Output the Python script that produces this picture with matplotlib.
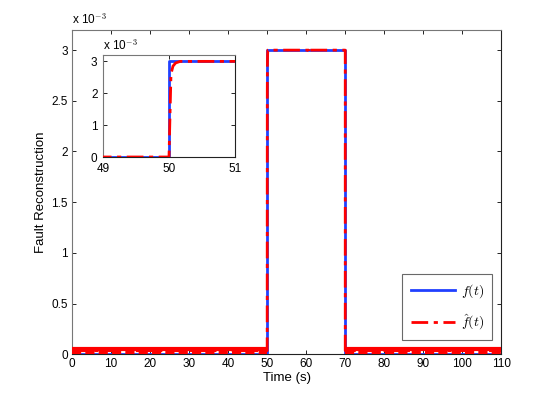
import matplotlib
matplotlib.use("Agg")
import matplotlib.pyplot as plt
import numpy as np
from matplotlib.ticker import FuncFormatter, MultipleLocator

plt.rcParams['font.family'] = ['Liberation Sans', 'DejaVu Sans']
plt.rcParams['mathtext.fontset'] = 'cm'

# Actual fault f(t)
t_f = [0, 50, 50, 70, 70, 110]
f_vals = [0, 0, 3.0e-3, 3.0e-3, 0, 0]

# Reconstructed fault \hat f(t)
t_est = [0, 50.0, 50.03, 50.06, 50.1, 50.17, 60.6, 60.8, 61.0, 70.0, 70.0, 110]
f_est = [3.5e-5, 3.5e-5, 2.6e-3, 2.85e-3, 2.95e-3, 3.0e-3, 3.0e-3, 2.97e-3, 3.0e-3, 3.0e-3, 3.5e-5, 3.5e-5]

# chattering band (upper and lower edge levels) outside the fault window
band_segments = [(0, 50), (70, 110)]
band_upper = 5.0e-5
band_lower = 1.5e-5

x_ticks_main = [0, 10, 20, 30, 40, 50, 60, 70, 80, 90, 100, 110]
y_ticks_main = [0, 0.5e-3, 1.0e-3, 1.5e-3, 2.0e-3, 2.5e-3, 3.0e-3]
x_ticks_inset = [49, 50, 51]
y_ticks_inset = [0, 1e-3, 2e-3, 3e-3]

blue = '#2040ff'
red = '#ff0000'

fig = plt.figure(figsize=(5.54, 3.98), dpi=100)
ax = fig.add_axes([0.13, 0.11, 0.775, 0.815])

fmt = FuncFormatter(lambda v, p: '%g' % round(v * 1e3, 6))

def style(a, fs=8.5):
    a.tick_params(direction='in', top=True, right=True, labelsize=fs, length=3, width=0.6, pad=3)
    for s in ['left', 'top']:
        a.spines[s].set_color('#777777')
    for s in ['right', 'bottom']:
        a.spines[s].set_color('#222222')
    for s in a.spines.values():
        s.set_linewidth(0.8)

ax.plot(t_f, f_vals, color=blue, lw=2.0, label=r'$f(t)$', zorder=3)
ax.plot(t_est, f_est, color=red, lw=2.0, dashes=(6, 2, 1.5, 2), label=r'$\hat{f}(t)$', zorder=4)
for (a, b) in band_segments:
    ax.plot([a, b], [band_upper, band_upper], color=red, lw=3.0, zorder=4, solid_capstyle='butt')
    ax.plot([a, b], [band_lower, band_lower], color=red, lw=3.0, dashes=(2.2, 1.0),
            zorder=4, dash_capstyle='butt')

ax.set_xlim(0, 110)
ax.set_ylim(0, 3.2e-3)
ax.set_xticks(x_ticks_main)
ax.set_yticks(y_ticks_main)
ax.yaxis.set_major_formatter(fmt)
style(ax)
ax.set_xlabel('Time (s)', fontsize=9.5, labelpad=1)
ax.set_ylabel('Fault Reconstruction', fontsize=9.5, labelpad=3)
ax.text(0.0, 1.01, r'x 10$^{-3}$', transform=ax.transAxes, fontsize=8.5, ha='left', va='bottom')

leg = ax.legend(loc='lower right', bbox_to_anchor=(0.979, 0.043), borderaxespad=0,
                fancybox=False, edgecolor='#444444', fontsize=10, handlelength=3.2,
                labelspacing=0.9, borderpad=0.6, handletextpad=0.4)
leg.get_frame().set_linewidth(0.8)

# inset
axi = fig.add_axes([103 / 554, 1 - 157 / 398, 132 / 554, 102 / 398])
axi.plot(t_f, f_vals, color=blue, lw=2.0, zorder=3)
axi.plot(t_est, [v if v > 1e-4 else 0 for v in f_est], color=red, lw=2.0,
         dashes=(6, 2, 1.5, 2), zorder=4)
axi.set_xlim(49, 51)
axi.set_ylim(0, 3.2e-3)
axi.set_xticks(x_ticks_inset)
axi.set_yticks(y_ticks_inset)
axi.yaxis.set_major_formatter(fmt)
style(axi)
axi.tick_params(axis='x', pad=4.5)
axi.tick_params(axis='y', pad=4)
axi.text(0.0, 1.02, r'x 10$^{-3}$', transform=axi.transAxes, fontsize=8.5, ha='left', va='bottom')

fig.savefig('out.png', dpi=100)
